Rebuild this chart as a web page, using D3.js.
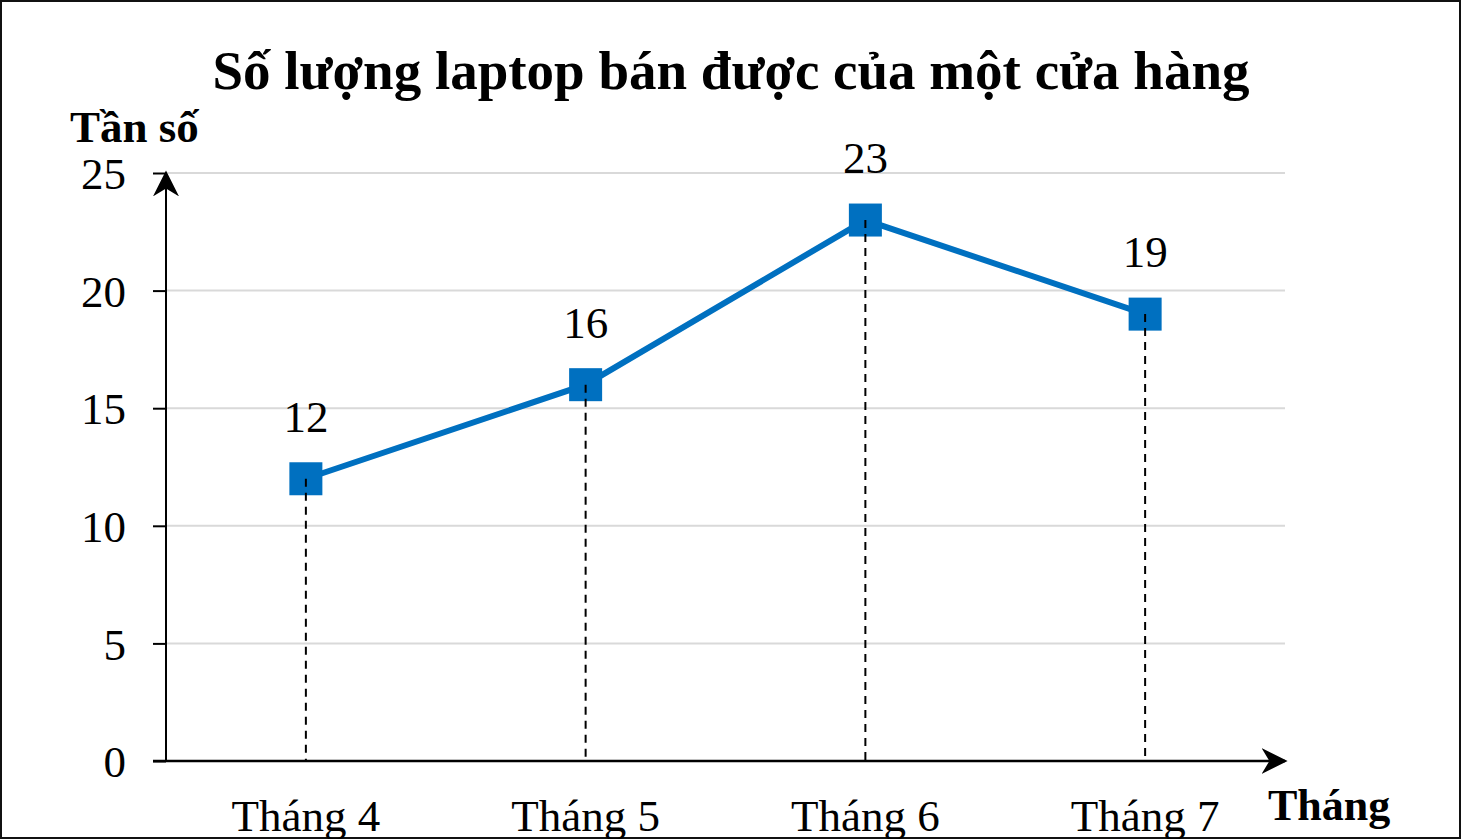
<!DOCTYPE html>
<html><head><meta charset="utf-8">
<script src="https://cdn.jsdelivr.net/npm/d3@7"></script>
<style>
html,body{margin:0;padding:0;background:#fff;}
svg{display:block;}
</style></head>
<body>
<script>
const categories = ["Tháng 4", "Tháng 5", "Tháng 6", "Tháng 7"];
const values = [12, 16, 23, 19];
const yTicks = [0, 5, 10, 15, 20, 25];
const title = "Số lượng laptop bán được của một cửa hàng";
const yTitle = "Tần số";
const xTitle = "Tháng";

const W = 1461, H = 839;
const svg = d3.select("body").append("svg").attr("width", W).attr("height", H);
const font = "'Liberation Serif','Times New Roman',serif";

// frame
svg.append("rect").attr("x", 1).attr("y", 1).attr("width", W - 2).attr("height", H - 2)
  .attr("fill", "#fff").attr("stroke", "#111").attr("stroke-width", 2);

const pLeft = 166, pRight = 1285, pTop = 173, pBottom = 761;
const x = d3.scaleBand().domain(categories).range([pLeft, pRight]);
const y = d3.scaleLinear().domain([0, 25]).range([pBottom, pTop]);

// gridlines
svg.append("g").selectAll("line").data(yTicks.filter(d => d > 0)).join("line")
  .attr("x1", pLeft).attr("x2", pRight).attr("y1", d => y(d)).attr("y2", d => y(d))
  .attr("stroke", "#d9d9d9").attr("stroke-width", 2);

// y axis
const yAxis = d3.axisLeft(y).tickValues(yTicks).tickSize(13).tickPadding(27);
const gy = svg.append("g").attr("transform", `translate(${pLeft},0)`).call(yAxis);
gy.select(".domain").remove();
gy.selectAll(".tick line").attr("stroke", "#000").attr("stroke-width", 2);
gy.selectAll(".tick text").attr("font-family", font).attr("font-size", 45).attr("fill", "#000")
  .attr("dy", "0.35em");

// axes lines with arrows
const defs = svg.append("defs");
defs.append("marker").attr("id", "arr").attr("viewBox", "0 0 20 20").attr("refX", 18).attr("refY", 10)
  .attr("markerWidth", 26).attr("markerHeight", 26).attr("markerUnits", "userSpaceOnUse")
  .attr("orient", "auto")
  .append("path").attr("d", "M0,0 L20,10 L0,20 L6,10 Z").attr("fill", "#000");

svg.append("line").attr("x1", pLeft).attr("x2", pLeft).attr("y1", pBottom).attr("y2", pTop)
  .attr("stroke", "#000").attr("stroke-width", 2).attr("marker-end", "url(#arr)");
svg.append("line").attr("x1", 153).attr("x2", pRight).attr("y1", pBottom).attr("y2", pBottom)
  .attr("stroke", "#000").attr("stroke-width", 2.5).attr("marker-end", "url(#arr)");

// x labels
const xAxis = d3.axisBottom(x).tickSize(0).tickPadding(38);
const gx = svg.append("g").attr("transform", `translate(0,${pBottom})`).call(xAxis);
gx.select(".domain").remove();
gx.selectAll(".tick text").attr("font-family", font).attr("font-size", 45).attr("fill", "#000");

const cx = d => x(d) + x.bandwidth() / 2;

// line
svg.append("path").datum(values)
  .attr("d", d3.line().x((d, i) => cx(categories[i])).y(d => y(d)))
  .attr("fill", "none").attr("stroke", "#0070c0").attr("stroke-width", 6);

// markers
svg.append("g").selectAll("rect").data(values).join("rect")
  .attr("x", (d, i) => cx(categories[i]) - 16.5).attr("y", d => y(d) - 16.5)
  .attr("width", 33).attr("height", 33).attr("fill", "#0070c0");

// dashed drop lines
svg.append("g").selectAll("line").data(values).join("line")
  .attr("x1", (d, i) => cx(categories[i])).attr("x2", (d, i) => cx(categories[i]))
  .attr("y1", d => y(d)).attr("y2", pBottom)
  .attr("stroke", "#000").attr("stroke-width", 2).attr("stroke-dasharray", "8,6");

// value labels
svg.append("g").selectAll("text").data(values).join("text")
  .attr("x", (d, i) => cx(categories[i])).attr("y", d => y(d) - 47)
  .attr("text-anchor", "middle").attr("font-family", font).attr("font-size", 45).attr("fill", "#000")
  .text(d => d);

// titles
svg.append("text").attr("x", 731).attr("y", 89).attr("text-anchor", "middle")
  .attr("font-family", font).attr("font-weight", "bold").attr("font-size", 55).attr("fill", "#000").text(title);
svg.append("text").attr("x", 70).attr("y", 142)
  .attr("font-family", font).attr("font-weight", "bold").attr("font-size", 45).attr("fill", "#000").text(yTitle);
svg.append("text").attr("x", 1268).attr("y", 820)
  .attr("font-family", font).attr("font-weight", "bold").attr("font-size", 44).attr("fill", "#000").text(xTitle);
</script>
</body></html>
